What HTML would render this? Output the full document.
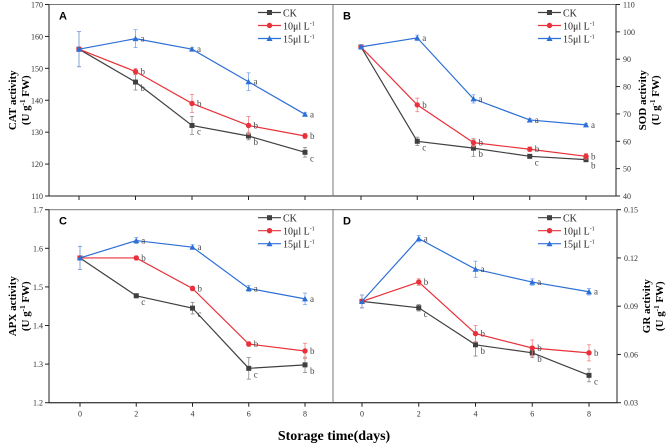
<!DOCTYPE html>
<html><head><meta charset="utf-8"><style>
body{margin:0;background:#fff}
svg{display:block;font-family:"Liberation Serif",serif}
</style></head><body>
<svg id="c" width="669" height="445" xmlns="http://www.w3.org/2000/svg"></svg>
<script>
const days=[0,2,4,6,8];
const seriesNames=["CK","10μl L","15μl L"];
const colors=["#404040","#e8313a","#2c6fd6"];
const catCK=[156,145.7,132.1,128.8,123.7], cat10=[156,149,139,132.1,128.8], cat15=[156,159.3,156,145.8,135.6];
const catErr=[[5.5,2.5,2.8,1.2,1.5],[0.5,1,2.8,2.8,0.8],[5.5,2.8,0.5,2.8,0.5]];
const catLet=[["","b","c","b","c"],["","b","b","b","b"],["","a","a","a","a"]];
const sodCK=[94.5,60,57.5,54.5,53.3], sod10=[94.5,73.3,59.5,57.1,54.5], sod15=[94.5,97.8,75.5,67.8,66];
const sodErr=[[0.8,1.5,3,0.5,0.8],[0.8,2.5,1.5,0.8,1],[0.8,1,1.5,0.5,0.5]];
const sodLet=[["","c","b","c","b"],["","b","b","b","b"],["","a","a","a","a"]];
const apxCK=[1.575,1.477,1.445,1.289,1.298], apx10=[1.575,1.575,1.496,1.352,1.334], apx15=[1.575,1.62,1.603,1.496,1.469];
const apxErr=[[0.03,0.005,0.015,0.028,0.02],[0.005,0.005,0.006,0.006,0.02],[0.03,0.008,0.006,0.008,0.015]];
const apxLet=[["","c","c","c","b"],["","b","b","b","b"],["","a","a","a","a"]];
const grCK=[0.093,0.089,0.066,0.061,0.047], gr10=[0.093,0.105,0.073,0.064,0.061], gr15=[0.093,0.132,0.113,0.105,0.099];
const grErr=[[0.004,0.002,0.007,0.003,0.004],[0.004,0.002,0.005,0.005,0.005],[0.004,0.002,0.005,0.002,0.002]];
const grLet=[["","c","b","b","c"],["","b","b","b","b"],["","a","a","a","a"]];
const catTicks=[110,120,130,140,150,160,170], sodTicks=[40,50,60,70,80,90,100,110];
const apxTicks=[1.2,1.3,1.4,1.5,1.6,1.7], grTicks=[0.03,0.06,0.09,0.12,0.15];

const svg=document.getElementById('c');const NS="http://www.w3.org/2000/svg";
function el(t,a,p){const e=document.createElementNS(NS,t);for(const k in a)e.setAttribute(k,a[k]);(p||svg).appendChild(e);return e;}
function txt(s,a,p){const e=el('text',a,p);e.textContent=s;return e;}

function panel(o){
  const g=el('g',{});
  
  
  const x0=o.x0,x1=o.x1,yT=o.yT,yB=o.yB;
  const xs=d=>o.px0+(o.px1-o.px0)*d/8;
  const ys=v=>yB-(v-o.min)/(o.max-o.min)*(yB-yT);
  el('rect',{x:x0,y:yT,width:x1-x0,height:yB-yT,fill:'none',stroke:'#777','stroke-width':1},g);
  const ax=o.right?x1:x0;
  el('line',{x1:ax,y1:yT,x2:ax,y2:yB,stroke:'#222','stroke-width':1},g);
  el('line',{x1:x0,y1:yB,x2:x1,y2:yB,stroke:'#222','stroke-width':1},g);
  o.ticks.forEach(t=>{const y=ys(t);const d=o.right?4:-4;
    el('line',{x1:ax,y1:y,x2:ax+d,y2:y,stroke:'#222'},g);
    const lab=txt(o.fmt(t),{x:o.right?ax+7:ax-6,y:y+3,'font-size':8,fill:'#333','text-anchor':o.right?'start':'end'},g);
    });
  days.forEach(d=>{const x=xs(d);el('line',{x1:x,y1:yB,x2:x,y2:yB+4,stroke:'#222'},g);
    if(o.xlabels){const l=txt(d,{x:x,y:yB+14,'font-size':8,fill:'#333','text-anchor':'middle'},g);
      }});
  const pl=txt(o.letter,{x:x0+10,y:yT+15,'font-size':11,'font-weight':'bold','font-family':'Liberation Sans,sans-serif'},g);
  
  o.data.forEach((arr,i)=>{
    const s=el('g',{},g);
    
    
    const c=colors[i];
    el('polyline',{points:arr.map((v,j)=>xs(days[j])+','+ys(v)).join(' '),fill:'none',stroke:c,'stroke-width':1.2},s);
    arr.forEach((v,j)=>{const x=xs(days[j]),y=ys(v),e=o.err[i][j];
      const ec=i==0?'#888':(i==1?'#f08080':'#7aa6e8');
      el('line',{x1:x,y1:ys(v+e),x2:x,y2:ys(v-e),stroke:ec,'stroke-width':0.8},s);
      el('line',{x1:x-2,y1:ys(v+e),x2:x+2,y2:ys(v+e),stroke:ec,'stroke-width':0.8},s);
      el('line',{x1:x-2,y1:ys(v-e),x2:x+2,y2:ys(v-e),stroke:ec,'stroke-width':0.8},s);
      let m;
      if(i==0)m=el('rect',{x:x-2.5,y:y-2.5,width:5,height:5,fill:c},s);
      else if(i==1)m=el('circle',{cx:x,cy:y,r:2.7,fill:c},s);
      else m=el('polygon',{points:`${x},${y-3} ${x-3},${y+2.5} ${x+3},${y+2.5}`,fill:c},s);
      
      const L=o.lets[i][j];
      if(L)txt(L,{x:x+5,y:y+(i==0?9:3),'font-size':9,fill:'#444'},s);
    });
  });
  const lg=el('g',{},g);
  
  seriesNames.forEach((n,i)=>{const y=yT+8+i*13,lx=o.legX;
    el('line',{x1:lx,y1:y,x2:lx+23,y2:y,stroke:colors[i],'stroke-width':1.2},lg);
    const mx=lx+11.5;
    if(i==0)el('rect',{x:mx-2.5,y:y-2.5,width:5,height:5,fill:colors[i]},lg);
    else if(i==1)el('circle',{cx:mx,cy:y,r:2.7,fill:colors[i]},lg);
    else el('polygon',{points:`${mx},${y-3} ${mx-3},${y+2.5} ${mx+3},${y+2.5}`,fill:colors[i]},lg);
    const t=txt(n,{x:lx+25,y:y+4,'font-size':10,fill:'#222'},lg);
    if(i>0){const s=document.createElementNS(NS,'tspan');s.setAttribute('dy','-4');s.setAttribute('font-size','6');s.textContent='-1';t.appendChild(s);}
  });
  const tx=o.titleX,ty=(yT+yB)/2;
  const t1=txt(o.title,{x:0,y:0,'font-size':11,'font-weight':'bold','text-anchor':'middle',transform:`translate(${tx},${ty}) rotate(-90)`});
  
  const t2=el('text',{x:0,y:0,'font-size':11,'font-weight':'bold','text-anchor':'middle',transform:`translate(${tx+13},${ty}) rotate(-90)`});
  t2.innerHTML='(U g<tspan dy="-4" font-size="7">-1</tspan><tspan dy="4"> FW)</tspan>';
  
}
panel({name:'panel-a-cat',letter:'A',x0:49,x1:333,yT:4.5,yB:196,px0:79,px1:305,min:110,max:170,ticks:catTicks,fmt:t=>t,data:[catCK,cat10,cat15],err:catErr,lets:catLet,legX:258,title:'CAT activity',titleX:16,right:false,xlabels:false});
panel({name:'panel-b-sod',letter:'B',x0:333,x1:616,yT:4.5,yB:196,px0:361,px1:586,min:40,max:110,ticks:sodTicks,fmt:t=>t,data:[sodCK,sod10,sod15],err:sodErr,lets:sodLet,legX:538,title:'SOD activity',titleX:646,right:true,xlabels:false});
panel({name:'panel-c-apx',letter:'C',x0:49,x1:333,yT:209.7,yB:402.7,px0:80,px1:305,min:1.2,max:1.7,ticks:apxTicks,fmt:t=>t.toFixed(1),data:[apxCK,apx10,apx15],err:apxErr,lets:apxLet,legX:258,title:'APX activity',titleX:16,right:false,xlabels:true});
panel({name:'panel-d-gr',letter:'D',x0:333,x1:617,yT:209.7,yB:402.7,px0:362,px1:589,min:0.03,max:0.15,ticks:grTicks,fmt:t=>t.toFixed(2),data:[grCK,gr10,gr15],err:grErr,lets:grLet,legX:538,title:'GR activity',titleX:650,right:true,xlabels:true});
const xt=txt('Storage time(days)',{x:334,y:440,'font-size':14,'font-weight':'bold','text-anchor':'middle'});


</script>
</body></html>
